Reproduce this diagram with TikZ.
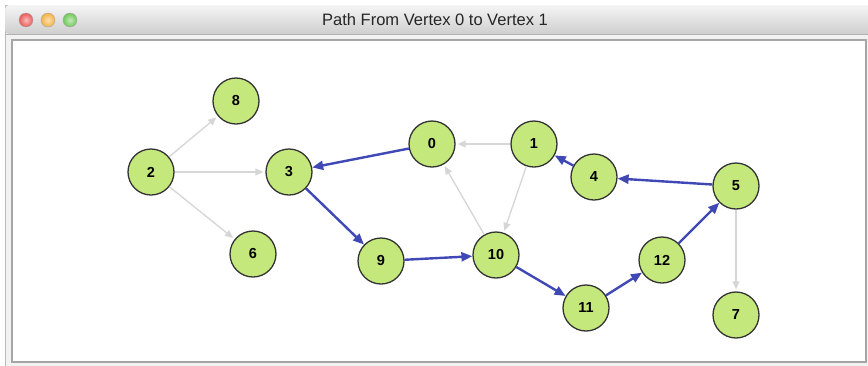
\documentclass[tikz,border=0pt]{standalone}
\usepackage{fontspec}
\setmainfont{Liberation Sans}
\usetikzlibrary{arrows.meta}

\definecolor{vertexgreen}{RGB}{196,232,124}
\definecolor{pathblue}{RGB}{64,72,182}
\definecolor{edgegray}{RGB}{214,214,214}
\definecolor{lightred}{RGB}{236,88,88}
\definecolor{lightamber}{RGB}{244,178,64}
\definecolor{lightgreen}{RGB}{112,200,88}

\begin{document}
\begin{tikzpicture}[x=1pt, y=-1pt, >=Triangle,
    vertex/.style={circle, draw=black!80, fill=vertexgreen, line width=1.3pt,
      minimum size=46pt, inner sep=0pt, font=\bfseries\fontsize{14.5}{16}\selectfont},
    plainedge/.style={draw=edgegray, line width=1.3pt, shorten >=2pt,
      -{Triangle[length=8pt, width=7pt, fill=edgegray]}},
    pathedge/.style={draw=pathblue, line width=2.4pt,
      -{Triangle[length=11pt, width=9pt, fill=pathblue]}},
    knob/.style={draw=black!35, line width=0.4pt}]
    \useasboundingbox (0,0) rectangle (868,365);

    % Fenster: Rahmen, Titelleiste, Knoepfe
    \fill[white] (0,0) rectangle (868,365);
    \draw[gray!55, fill=gray!10] (5,5) rectangle (875,372);
    \shade[top color=gray!8, bottom color=gray!38, rounded corners=4pt]
      (5,5) rectangle (875,34);
    \draw[gray!60] (5,34) -- (868,34);
    \shade[knob, inner color=lightred!40, outer color=lightred] (26,20) circle (7pt);
    \shade[knob, inner color=lightamber!40, outer color=lightamber] (48,20) circle (7pt);
    \shade[knob, inner color=lightgreen!40, outer color=lightgreen] (70,20) circle (7pt);
    \node[font=\fontsize{16.5}{18}\selectfont, text=black!85] (title) at (435,20)
      {Path From Vertex 0 to Vertex 1};
    \draw[gray!70, line width=1.2pt, fill=white] (12,40) rectangle (866,362);

    % Knoten des Graphen
    \node[vertex] (v8)  at (236,101) {8};
    \node[vertex] (v2)  at (151,172) {2};
    \node[vertex] (v3)  at (289,172) {3};
    \node[vertex] (v6)  at (253,254) {6};
    \node[vertex] (v0)  at (432,144) {0};
    \node[vertex] (v1)  at (534,144) {1};
    \node[vertex] (v4)  at (594,177) {4};
    \node[vertex] (v5)  at (736,186) {5};
    \node[vertex] (v9)  at (381,261) {9};
    \node[vertex] (v10) at (496,255) {10};
    \node[vertex] (v11) at (586,308) {11};
    \node[vertex] (v12) at (662,260) {12};
    \node[vertex] (v7)  at (736,315) {7};

    % uebrige Kanten (grau)
    \foreach \a/\b in {2/8, 2/3, 2/6, 1/0, 1/10, 10/0, 5/7}
      \draw[plainedge] (v\a) -- (v\b);

    % gefundener Pfad (blau)
    \foreach \a/\b in {0/3, 3/9, 9/10, 10/11, 11/12, 12/5, 5/4, 4/1}
      \draw[pathedge] (v\a) -- (v\b);
\end{tikzpicture}
\end{document}
